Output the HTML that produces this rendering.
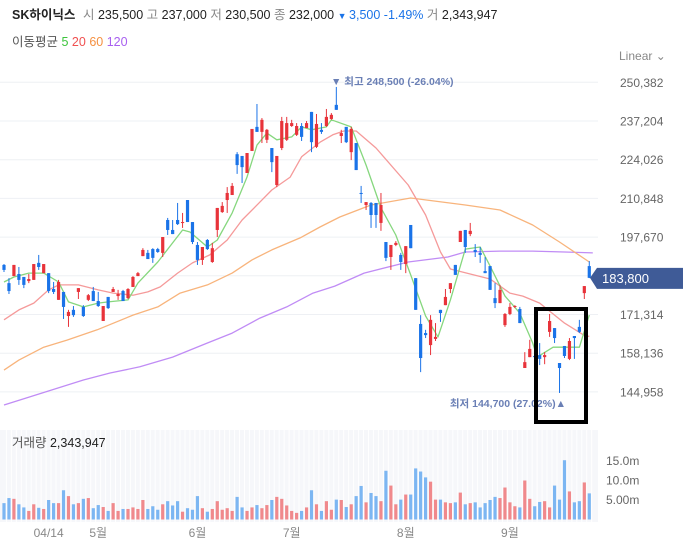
<!DOCTYPE html>
<html><head><meta charset="utf-8">
<style>
html,body{margin:0;padding:0;background:#fff;width:683px;height:548px;overflow:hidden;font-family:"Liberation Sans","Noto Sans CJK KR",sans-serif;}
svg{display:block}
</style></head>
<body>
<svg id="chart" width="683" height="548" xmlns="http://www.w3.org/2000/svg" font-family="Liberation Sans, Noto Sans CJK KR, sans-serif">
  <g id="header" font-size="12.5">
    <text x="12" y="19" font-weight="bold" fill="#222">SK하이닉스</text>
    <text x="83" y="19"><tspan fill="#888">시 </tspan><tspan fill="#222">235,500 </tspan><tspan fill="#888">고 </tspan><tspan fill="#222">237,000 </tspan><tspan fill="#888">저 </tspan><tspan fill="#222">230,500 </tspan><tspan fill="#888">종 </tspan><tspan fill="#222">232,000 </tspan><tspan fill="#1a73e8" font-size="9">▼ </tspan><tspan fill="#1a73e8">3,500 -1.49% </tspan><tspan fill="#888">거 </tspan><tspan fill="#222">2,343,947</tspan></text>
    <text x="12" y="46"><tspan fill="#555">이동평균 </tspan><tspan fill="#3cc43c">5 </tspan><tspan fill="#f05050">20 </tspan><tspan fill="#f59040">60 </tspan><tspan fill="#a860f0">120</tspan></text>
    <text x="619" y="60" fill="#888" font-size="12">Linear ⌄</text>
  </g>
  <g id="grid"></g>
  <g id="volbg"></g>
  <g id="ma"></g>
  <g id="candles"></g>
  <g id="vols"></g>
  <g id="axes"></g>
  <g id="notes"></g>
</svg>
<script>
// ---- data (prices in thousands of KRW) ----
const opens  = [188.2,182.0,184.4,185.1,184.1,182.7,183.1,188.9,185.4,185.4,180.0,176.3,179.0,170.8,172.9,179.0,173.9,176.3,179.3,175.9,169.1,177.3,179.0,177.6,179.3,176.9,180.7,184.4,191.2,192.3,193.6,193.6,192.3,203.5,200.1,203.5,202.5,210.3,202.8,195.0,189.9,196.7,189.2,200.1,206.2,210.3,212.0,225.9,225.3,219.5,227.0,235.2,233.5,230.8,228.0,215.4,228.0,230.8,235.5,232.5,235.5,234.8,240.3,228.4,234.2,235.5,237.9,242.7,232.1,235.2,226.6,229.7,212.7,208.6,209.3,209.3,202.5,196.0,190.9,195.0,191.6,188.5,201.8,183.7,168.1,165.0,160.9,163.0,172.9,174.5,180.0,188.2,196.0,200.1,198.7,193.3,192.3,186.1,187.8,176.9,175.2,167.7,171.5,173.9,173.2,153.1,156.8,157.2,157.5,156.8,165.4,166.7,154.8,160.6,156.2,164.0,167.1,178.6,187.8];
const highs  = [188.5,183.7,188.2,187.5,184.1,185.1,188.5,191.6,188.5,185.4,182.4,183.1,179.0,172.9,174.2,180.3,174.5,178.3,180.7,179.0,174.2,177.3,180.7,179.7,179.7,180.3,184.4,185.8,193.9,193.3,193.9,194.0,197.7,204.2,203.5,209.3,205.9,210.3,202.8,196.0,194.3,197.0,195.7,207.6,209.6,214.7,216.1,226.6,225.3,226.3,234.5,243.0,238.2,234.5,228.0,225.3,238.6,238.6,237.6,236.5,236.5,237.2,240.3,239.6,236.5,241.3,239.9,248.8,234.2,235.2,235.2,229.7,215.1,209.6,209.6,209.3,212.7,196.0,195.0,196.3,192.3,194.6,201.8,183.7,171.1,166.1,171.1,168.4,172.9,180.0,182.0,188.2,199.8,200.1,202.5,195.3,194.3,190.9,187.8,182.0,181.4,171.8,175.2,174.5,173.9,158.5,162.7,158.2,161.6,158.5,171.5,166.7,154.8,160.6,163.3,164.0,169.5,181.0,189.5];
const lows   = [185.8,178.3,184.4,181.4,180.3,182.0,183.1,186.5,185.4,178.6,178.3,176.3,169.8,167.1,170.5,176.6,170.5,175.9,175.9,173.9,169.1,173.2,179.0,176.3,175.9,176.6,180.7,184.4,191.2,190.2,188.9,192.3,190.9,198.4,198.7,201.8,200.8,202.8,195.3,188.2,188.2,193.3,188.9,197.7,205.9,205.9,212.0,219.2,216.1,219.5,227.0,233.5,229.7,229.7,219.8,214.7,227.3,230.4,235.2,232.1,230.4,234.8,226.6,228.0,232.8,235.2,237.6,241.0,229.7,229.7,223.9,220.5,209.3,206.9,200.8,200.8,199.8,189.5,186.5,194.6,186.5,185.4,193.9,172.9,151.7,163.3,157.5,162.3,168.8,174.5,178.6,184.8,196.0,192.3,198.0,190.9,188.9,185.4,179.7,173.5,175.2,167.1,171.1,173.5,168.4,153.1,156.8,155.1,154.1,154.4,163.7,161.6,144.6,156.5,155.8,156.2,165.0,176.6,183.7];
const closes = [186.5,179.3,188.2,183.1,181.4,183.4,188.5,187.5,188.5,179.3,179.0,182.4,173.9,172.2,171.1,180.3,170.8,177.9,175.9,174.2,174.2,173.5,180.0,178.3,175.9,180.0,184.1,185.4,193.3,190.2,190.6,192.6,197.7,200.1,198.7,202.1,202.8,202.8,196.0,189.9,194.3,193.6,193.9,207.6,208.3,212.7,215.1,222.2,221.5,226.3,234.5,233.5,237.6,234.2,223.2,225.3,237.2,236.5,236.5,235.5,231.8,236.5,230.0,236.2,233.5,238.6,239.3,241.0,233.1,230.0,234.5,220.5,212.4,209.6,205.2,205.2,208.6,190.6,195.0,195.7,189.2,194.6,193.9,172.9,156.5,164.3,169.5,163.7,171.8,177.3,182.0,184.8,199.8,194.3,199.8,192.6,191.6,185.4,179.7,175.2,179.7,171.5,173.9,174.2,168.4,155.1,159.6,156.8,156.2,157.5,169.1,163.3,153.1,157.2,162.3,163.3,165.4,181.0,183.8];
const volumes = [4.2,5.5,5.3,3.9,3.1,2.2,3.9,3.0,2.7,5.0,4.2,4.2,7.5,6.0,3.9,4.2,5.3,5.5,2.9,3.7,3.2,2.2,4.2,2.2,2.7,2.7,3.1,2.7,5.0,2.7,3.4,2.5,3.9,4.7,3.6,4.7,2.0,2.9,2.5,6.0,2.9,2.0,2.7,4.7,2.5,2.9,2.2,5.8,3.1,2.2,3.1,3.7,2.9,3.7,5.0,5.8,5.3,3.6,2.2,1.7,2.2,3.1,7.5,3.9,2.2,4.7,2.5,5.1,5.0,3.2,3.9,6.0,8.6,4.4,6.8,6.0,4.7,12.5,8.7,3.9,5.1,6.4,6.4,13.1,12.3,10.8,9.7,5.1,5.1,4.4,4.2,4.4,6.9,3.9,4.2,4.4,3.1,4.2,5.0,5.8,5.5,8.2,4.4,3.4,3.1,10.0,5.3,3.4,4.5,4.7,3.1,8.7,5.1,15.2,7.2,4.4,4.7,9.5,6.7];
const ma5Idx  = [0,2,5,8,11,13,16,19,21,25,27,31,36,37.5,41,43,46,49,51,53,55,58,60,62,65,66,70,73,76,79,82,85,87.5,90,93,96,98,101,104,106.6,107.5,110.7,116,118];
const ma5Val  = [182.4,184.1,185.4,185.4,182.4,175.6,173.9,175.2,175.6,176.3,182.0,189.2,200.1,199.4,194.3,196.7,205.9,218.1,229.0,233.1,230.8,231.8,235.2,234.2,235.2,237.6,235.2,222.2,207.6,198.4,184.8,170.8,163.7,176.3,193.6,194.3,187.8,177.6,171.8,161.6,156.8,160.2,160.2,171.1];
const ma20Idx = [0,3,6,9,11,15,19,22,26,29,31.5,35,38,41.5,45,48,51.6,54,57.7,60,63.7,66.3,68.5,71,75,81.5,85,88,90,94,98,102,104.6,108,113,117.5,118];
const ma20Val = [169.5,172.9,175.2,179.7,181.4,181.4,179.7,178.6,177.9,179.0,180.7,185.4,188.9,191.6,196.7,203.5,209.6,213.7,218.1,225.0,230.0,232.5,233.8,233.8,228.0,215.4,205.2,192.6,186.8,185.1,183.4,178.6,177.6,175.2,168.4,163.7,164.0];
const ma60Idx = [0,3,8,12.7,18.8,26,31,35.5,41,46,50,54,59.7,63.7,67.7,74,82,93,100,106.6,112,118];
const ma60Val = [152.4,155.8,160.2,162.6,166.1,171.1,173.9,178.6,181.4,185.4,189.9,193.3,197.4,201.1,204.5,208.6,211.0,208.6,206.9,201.8,196.0,189.2];
const ma120Idx = [0,16,21.4,27.4,34,41,46,51.6,57,62.3,66.7,72.6,81.5,89.5,93,100,106.6,113,118.7];
const ma120Val = [140.5,149.0,151.4,153.5,156.8,161.6,165.0,170.1,173.9,178.6,181.0,185.4,189.2,190.9,192.6,192.9,192.9,192.6,192.3];
const priceTicks = [250382,237204,224026,210848,197670,184492,171314,158136,144958];
const volTicks = [5,10,15];
const volTickLabels = ["5.00m","10.0m","15.0m"];
const monthLabels = ["04/14","5월","6월","7월","8월","9월"];
const monthIdx = [9,19,39,58,81,102];

// ---- axis functions ----
const NS="http://www.w3.org/2000/svg";
const X0=4, DX=4.96;
function xOf(i){return X0+i*DX;}
function yOf(p){return 82.3+(250.382-p)/0.3405;}
function vyOf(v){return 519.5-v*3.9;}
function mk(tag,attrs,parent){const e=document.createElementNS(NS,tag);for(const k in attrs)e.setAttribute(k,attrs[k]);parent.appendChild(e);return e;}
const RED="#e8333a", BLUE="#1a73e8";

const grid=document.getElementById('grid');
priceTicks.forEach((t)=>{
  const y=yOf(t/1000);
  const ln=mk('line',{x1:0,x2:598,y1:y,y2:y,stroke:'#eef0f4','stroke-width':1},grid);
  
  
  const tx=mk('text',{x:620,y:y+4.5,fill:'#666','font-size':12},grid);
  tx.textContent=t.toLocaleString('en-US');
  
  
});

// volume panel
const vbg=document.getElementById('volbg');
const bg=mk('rect',{x:0,y:430,width:598,height:92,fill:'#f6f7fa'},vbg);


for(let i=0;i<closes.length;i++){
  const l=mk('line',{x1:xOf(i)+2.4,x2:xOf(i)+2.4,y1:430,y2:522,stroke:'#ffffff','stroke-width':1},vbg);
  
  
}
const vt=mk('text',{x:12,y:447,'font-size':12.5},vbg);
vt.innerHTML='<tspan fill="#555">거래량 </tspan><tspan fill="#222">2,343,947</tspan>';


volTicks.forEach((v,k)=>{
  const t=mk('text',{x:606,y:vyOf(v)+4,fill:'#666','font-size':12},vbg);
  t.textContent=volTickLabels[k];
  
  
});

// MA lines
const maG=document.getElementById('ma');
function maLine(idx,val,color,name){
  const pts=idx.map((ix,k)=>xOf(ix).toFixed(1)+','+yOf(val[k]).toFixed(1)).join(' ');
  const pl=mk('polyline',{points:pts,fill:'none',stroke:color,'stroke-width':1.3,'stroke-linejoin':'round'},maG);
  
  
}
maLine(ma120Idx,ma120Val,'#c08cf5','ma120-line');
maLine(ma60Idx,ma60Val,'#f8b47c','ma60-line');
maLine(ma20Idx,ma20Val,'#f59a9a','ma20-line');
maLine(ma5Idx,ma5Val,'#86d77e','ma5-line');

// candles
const cg=document.getElementById('candles');
for(let i=0;i<closes.length;i++){
  const up=closes[i]>=opens[i];
  const col=up?RED:BLUE;
  const x=xOf(i);
  const g=mk('g',{},cg);
  
  
  mk('line',{x1:x,x2:x,y1:yOf(highs[i]),y2:yOf(lows[i]),stroke:col,'stroke-width':1},g);
  const top=yOf(Math.max(opens[i],closes[i])), bot=yOf(Math.min(opens[i],closes[i]));
  mk('rect',{x:x-1.6,y:top,width:3.2,height:Math.max(1,bot-top),fill:col},g);
}

// volume bars
const vg=document.getElementById('vols');
for(let i=0;i<volumes.length && i<closes.length;i++){
  const up=closes[i]>=opens[i];
  const y=vyOf(volumes[i]);
  const r=mk('rect',{x:xOf(i)-1.6,y:y,width:3.2,height:519.5-y,fill:up?'#f0898c':'#7cb6f2'},vg);
  
  
}

// x axis labels
const ax=document.getElementById('axes');
monthLabels.forEach((m,k)=>{
  const t=mk('text',{x:xOf(monthIdx[k]),y:537,fill:'#888','font-size':12,'text-anchor':'middle'},ax);
  t.textContent=m;
  
  
});

// annotations
const nt=document.getElementById('notes');
const last=closes[closes.length-1];
const ly=yOf(last);
const tag=mk('polygon',{points:`590,${ly} 597,${ly-10} 683,${ly-10} 683,${ly+11} 597,${ly+11}`,fill:'#3f5b97'},nt);


const tt=mk('text',{x:602,y:ly+5,fill:'#fff','font-size':13},nt);
tt.textContent='183,800';


const hi=mk('text',{x:331,y:85,fill:'#6a7fb5','font-size':10.5,'font-weight':'bold'},nt);
hi.textContent='▼ 최고 248,500 (-26.04%)';


const lo=mk('text',{x:566,y:407,fill:'#6a7fb5','font-size':10.5,'font-weight':'bold','text-anchor':'end'},nt);
lo.textContent='최저 144,700 (27.02%)▲';


const box=mk('rect',{x:536,y:309,width:50,height:113,fill:'none',stroke:'#000','stroke-width':4},nt);


</script>
</body></html>
